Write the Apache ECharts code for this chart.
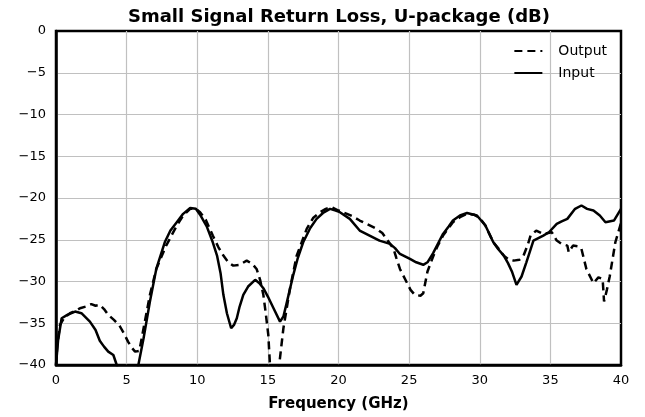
<!DOCTYPE html>
<html>
<head>
<meta charset="utf-8">
<script src="https://cdn.jsdelivr.net/npm/echarts@6/dist/echarts.min.js"></script>
<style>
  html, body { margin: 0; padding: 0; background: #fff; }
  #chart { width: 645px; height: 417px; }
</style>
</head>
<body>
<div id="chart"></div>
<script>
// frequency in GHz, return loss in dB
var outFreq = [0, 0.1, 0.28, 0.6, 0.99, 1.4, 1.7, 2.1, 2.5, 2.8, 3.1, 3.4, 3.7, 4.1, 4.5, 4.8, 5.1, 5.35, 5.6, 5.9,
  6.2, 6.65, 7.1, 7.8, 8.55, 9.0, 9.5, 9.9, 10.2, 10.6, 11.1, 11.5, 11.85, 12.2, 12.55, 13.0, 13.5, 13.9, 14.2, 14.45,
  14.68, 14.85, 15.03, 15.15, 15.5, 15.8, 16.1, 16.57, 17.04, 17.75, 18.2, 18.7, 19.1, 19.5, 20.0, 20.6, 21.0, 21.5,
  22.1, 22.7, 23.1, 23.4, 23.9, 24.1, 24.35, 24.8, 25.1, 25.4, 25.8, 26.0, 26.3, 26.7, 27.0, 27.4, 28.1, 28.6, 29.1,
  29.6, 30.0, 30.4, 30.96, 31.3, 31.7, 32.0, 32.4, 32.8, 33.1, 33.4, 33.6, 34.0, 34.5, 35.1, 35.45, 35.8, 36.2, 36.3,
  36.6, 37.0, 37.2, 37.55, 38.05, 38.4, 38.7, 38.8, 39.0, 39.2, 39.6, 40];
var outLoss = [-40, -37.5, -35.2, -34.3, -33.8, -33.5, -33.2, -33.0, -32.7, -32.9, -32.8, -33.3, -34, -34.6, -35.3, -36.2, -37.2, -37.9, -38.4, -38.3,
  -35.6, -31.6, -28.5, -25.7, -23.3, -22.1, -21.3, -21.3, -21.7, -22.6, -24.5, -25.9, -26.9, -27.7, -28.1, -28.0, -27.5, -27.9, -28.5, -29.8,
  -31.6, -33.8, -36.4, -40, -46, -40, -35.6, -30.8, -26.9, -23.7, -22.4, -21.7, -21.3, -21.1, -21.5, -21.9, -22.2, -22.7,
  -23.2, -23.7, -24.2, -24.9, -26.1, -27.2, -28.5, -30, -31, -31.6, -31.7, -31.4, -28.8, -27.0, -25.8, -24.5, -22.9, -22.3, -21.9,
  -22.0, -22.4, -23.3, -25.3, -26.0, -26.9, -27.3, -27.5, -27.4, -26.9, -25.6, -24.5, -23.9, -24.3, -24.1, -25.1, -25.5, -25.7, -26.5,
  -25.7, -25.8, -26.1, -28.5, -30.2, -29.5, -29.7, -32.4, -31.0, -29.4, -25.3, -23];

var inFreq = [0, 0.15, 0.4, 0.8, 1.35, 1.8, 2.4, 2.8, 3.1, 3.4, 3.7, 4.06, 4.3, 5.0, 5.83, 6.2, 6.65, 7.1, 7.7, 8.1,
  8.55, 9.0, 9.5, 9.9, 10.2, 10.67, 11.1, 11.4, 11.65, 11.85, 12.1, 12.4, 12.6, 12.8, 13.0, 13.26, 13.6, 14.1, 14.4,
  14.68, 15.0, 15.4, 15.86, 16.1, 16.3, 16.8, 17.1, 17.5, 18.0, 18.45, 18.9, 19.4, 19.8, 20.1, 20.8, 21.5, 22.2, 22.9,
  23.65, 24.0, 24.35, 25.06, 25.5, 26.0, 26.3, 26.7, 27.0, 27.4, 27.8, 28.1, 28.6, 29.1, 29.8, 30.4, 30.96, 31.3, 31.7,
  32.0, 32.3, 32.6, 32.96, 33.3, 33.8, 34.5, 34.9, 35.45, 35.8, 36.2, 36.75, 37.2, 37.6, 38.05, 38.5, 38.9, 39.5, 40];
var inLoss = [-40, -37, -34.4, -34.0, -33.6, -33.8, -34.8, -35.8, -37.1, -37.8, -38.4, -38.8, -40, -46, -40, -36.8, -32.4, -28.5, -25.3, -23.9,
  -22.9, -21.9, -21.2, -21.3, -22.0, -23.4, -25.3, -26.9, -29.0, -31.6, -33.8, -35.6, -35.2, -34.4, -33.0, -31.6, -30.6, -29.8, -30.2,
  -30.8, -31.8, -33.2, -34.8, -34.2, -32.8, -29.2, -27.3, -25.3, -23.6, -22.5, -21.8, -21.3, -21.5, -21.7, -22.5, -23.9, -24.5, -25.1,
  -25.5, -26.0, -26.7, -27.3, -27.7, -28.0, -27.7, -26.6, -25.6, -24.3, -23.4, -22.7, -22.1, -21.8, -22.1, -23.3, -25.3, -26.1, -26.9,
  -27.8, -28.9, -30.4, -29.4, -27.7, -25.1, -24.5, -24.1, -23.1, -22.8, -22.5, -21.3, -20.9, -21.3, -21.5, -22.1, -22.9, -22.7, -21.3];

function zip(xs, ys) {
  var r = [];
  for (var i = 0; i < xs.length; i++) r.push([xs[i], ys[i]]);
  return r;
}
function minus(v) { return String(v).replace('-', '\u2212'); }

var font = 'DejaVu Sans';
var chart = echarts.init(document.getElementById('chart'));
chart.setOption({
  animation: false,
  textStyle: { fontFamily: font },
  title: {
    text: 'Small Signal Return Loss, U-package (dB)',
    left: 334, top: 3, textAlign: 'center',
    textStyle: { fontFamily: font, fontSize: 18, fontWeight: 'bold', color: '#000' }
  },
  legend: {
    data: ['Output', 'Input'],
    orient: 'vertical', right: 33, top: 39,
    itemWidth: 28, itemHeight: 14, itemGap: 8,
    itemStyle: { opacity: 0 },
    textStyle: { fontFamily: font, fontSize: 14, color: '#000', padding: [0, 0, 0, 11] }
  },
  grid: {
    left: 56, right: 24, top: 31, bottom: 50,
    show: true, borderColor: '#000', borderWidth: 2.5, backgroundColor: 'transparent'
  },
  xAxis: {
    type: 'value', min: 0, max: 40, interval: 5,
    name: 'Frequency (GHz)', nameLocation: 'middle', nameGap: 32,
    nameTextStyle: { fontFamily: font, fontSize: 15, fontWeight: 'bold', color: '#000' },
    axisLine: { show: true, onZero: false, lineStyle: { color: '#000', width: 2.5 } },
    axisTick: { show: false },
    axisLabel: { color: '#000', fontSize: 13, margin: 9 },
    splitLine: { show: true, showMinLine: false, showMaxLine: false, lineStyle: { color: '#c0c0c0', width: 1.2 } }
  },
  yAxis: {
    type: 'value', min: -40, max: 0, interval: 5,
    axisLine: { show: true, onZero: false, lineStyle: { color: '#000', width: 2.5 } },
    axisTick: { show: false },
    axisLabel: { color: '#000', fontSize: 13, margin: 10, formatter: minus },
    splitLine: { show: true, showMinLine: false, showMaxLine: false, lineStyle: { color: '#c0c0c0', width: 1.2 } }
  },
  series: [
    {
      name: 'Output', type: 'line', symbol: 'none', clip: true,
      lineStyle: { color: '#000', width: 2.5, type: [8, 5] },
      itemStyle: { color: '#000' },
      data: zip(outFreq, outLoss)
    },
    {
      name: 'Input', type: 'line', symbol: 'none', clip: true,
      lineStyle: { color: '#000', width: 2.5 },
      itemStyle: { color: '#000' },
      data: zip(inFreq, inLoss)
    }
  ]
});
</script>
</body>
</html>
